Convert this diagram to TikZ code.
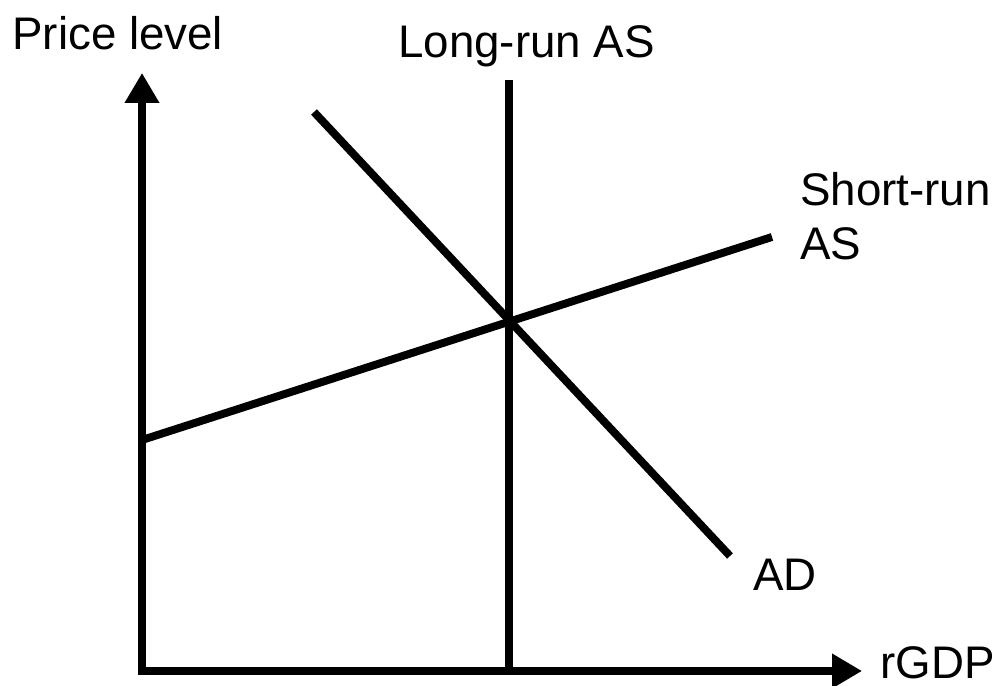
\documentclass[tikz,border=0pt]{standalone}
\usepackage{fontspec}
\setmainfont{Liberation Sans}
\usetikzlibrary{arrows.meta, positioning}

\begin{document}
\begin{tikzpicture}[node distance=0.3cm]
  \tikzstyle{axis}  = [line width=4pt, line join=miter, {Triangle[length=0.6cm,width=0.66cm]}-{Triangle[length=0.6cm,width=0.66cm]}]
  \tikzstyle{curve} = [line width=4.5pt]
  \tikzstyle{label} = [font=\fontsize{26}{31}\selectfont, inner sep=0pt, align=left]
  \useasboundingbox (0,0) rectangle (20.06,13.72);
  % axes
  \coordinate (O)    at (2.84,0.30);
  \coordinate (ytip) at (2.84,12.26);
  \coordinate (xtip) at (17.24,0.30);
  \draw[axis] (ytip) -- (O) -- (xtip);
  % curves
  \coordinate (lras top) at (10.18,12.12);
  \coordinate (lras bot) at (10.18,0.30);
  \coordinate (ad top)   at (6.28,11.48);
  \coordinate (ad bot)   at (14.60,2.60);
  \coordinate (sras lo)  at (2.84,4.92);
  \coordinate (sras hi)  at (15.44,8.98);
  \draw[curve] (lras top) -- (lras bot);
  \draw[curve] (ad top) -- (ad bot);
  \draw[curve] (sras lo) -- (sras hi);
  % labels
  \node[label, anchor=base west] (price) at (0.24,12.72) {Price level};
  \node[label, anchor=base west] (lras)  at (7.96,12.56) {Long-run AS};
  \node[label, anchor=base west] (sras)  at (16.00,8.52) {Short-run\\AS};
  \node[label, anchor=base west] (ad)    at (15.06,1.90) {AD};
  \node[label, anchor=base west] (gdp)   at (17.60,0.14) {rGDP};
\end{tikzpicture}
\end{document}
